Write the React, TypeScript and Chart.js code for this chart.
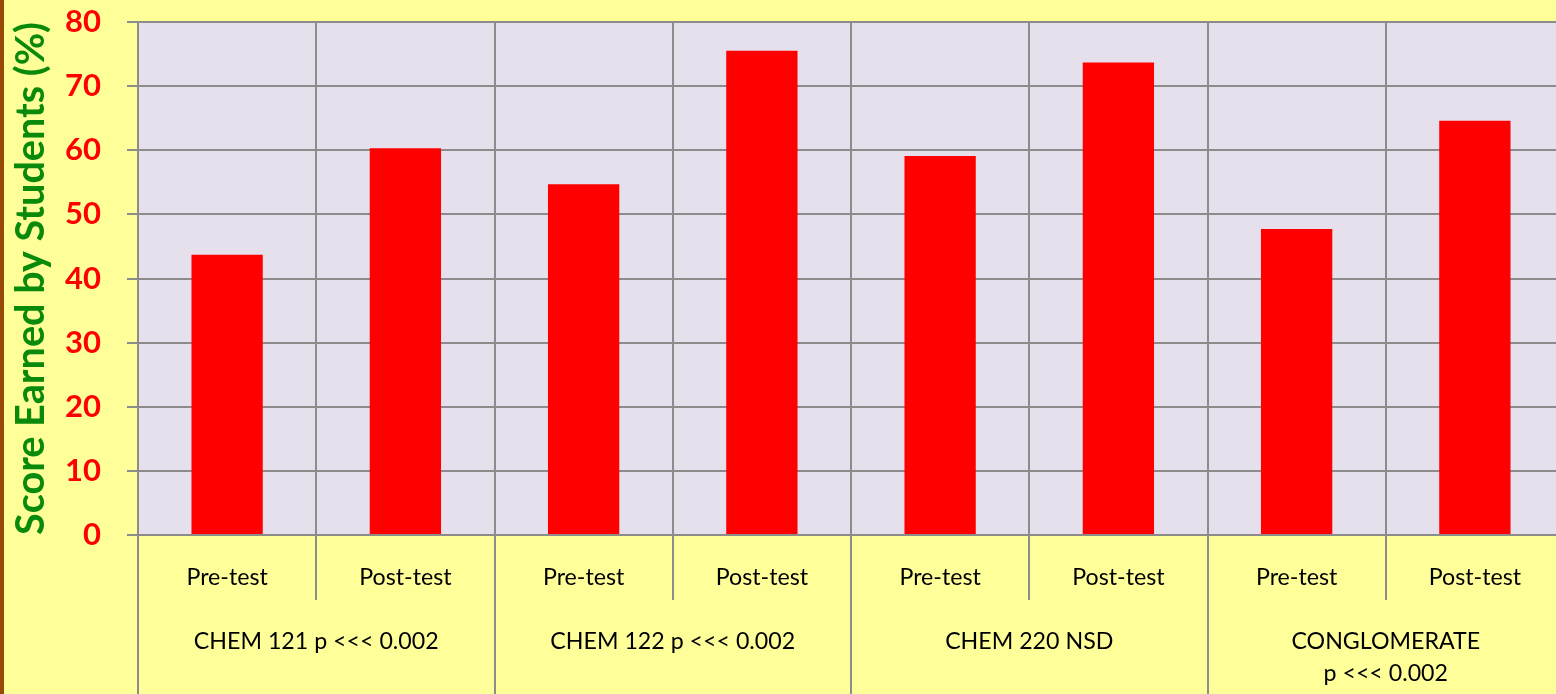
import React, { useEffect, useRef } from "react";
import { Chart, registerables } from "chart.js";

Chart.register(...registerables);

// ---- data ----
const subCategories = [
  "Pre-test", "Post-test",
  "Pre-test", "Post-test",
  "Pre-test", "Post-test",
  "Pre-test", "Post-test",
];
const groupLabels: string[][] = [
  ["CHEM 121 p <<< 0.002"],
  ["CHEM 122 p <<< 0.002"],
  ["CHEM 220 NSD"],
  ["CONGLOMERATE", "p <<< 0.002"],
];
const scores = [43.7, 60.3, 54.7, 75.5, 59.1, 73.7, 47.7, 64.6];
const yMin = 0;
const yMax = 80;
const yStep = 10;
const yTitle = "Score Earned by Students (%)";

// ---- style ----
const W = 1566;
const H = 720;
const FONT = "Lato";
const YELLOW = "#FFFF99";
const PLOT_BG = "#E6E0EC";
const GRID = "#8C8C8C";
const BAR = "#FF0000";
const GREEN = "#0A8A0A";
const BROWN = "#984807";

function fitSize(text: string, weight: string, target: number): number {
  const c = document.createElement("canvas").getContext("2d")!;
  c.font = `${weight} 100px ${FONT}`;
  return (100 * target) / c.measureText(text).width;
}

export default function App() {
  const ref = useRef<HTMLCanvasElement | null>(null);

  useEffect(() => {
    if (!ref.current) return;
    const titleSize = fitSize(yTitle, "bold", 513);
    const yTickSize = fitSize("80", "bold", 36);
    const xSize = fitSize("CHEM 121 p <<< 0.002", "normal", 245);
    const plotTop = 22;
    const plotBottom = 535;
    const tickLen = 65;
    const subCenter = 578;
    const groupCenter = 642;
    const groupLineGap = 32;

    const bgPlugin = {
      id: "plotBg",
      beforeDraw(chart: any) {
        const { ctx, chartArea } = chart;
        ctx.save();
        ctx.fillStyle = PLOT_BG;
        ctx.fillRect(chartArea.left, chartArea.top, chartArea.right - chartArea.left, chartArea.bottom - chartArea.top);
        ctx.restore();
      },
    };

    const groupPlugin = {
      id: "groups",
      afterDraw(chart: any) {
        const xs = chart.scales.x;
        const ctx = chart.ctx;
        ctx.save();
        ctx.strokeStyle = GRID;
        ctx.lineWidth = 2;
        const per = subCategories.length / groupLabels.length;
        for (let g = 0; g <= groupLabels.length; g++) {
          const x = Math.round(xs.getPixelForValue(g * per - 0.5));
          ctx.beginPath();
          ctx.moveTo(x, xs.top);
          ctx.lineTo(x, chart.height);
          ctx.stroke();
        }
        ctx.fillStyle = "#000";
        ctx.font = `normal ${xSize}px ${FONT}`;
        ctx.textAlign = "center";
        ctx.textBaseline = "middle";
        groupLabels.forEach((lines, g) => {
          const cx = xs.getPixelForValue(g * per + (per - 1) / 2);
          lines.forEach((t, i) => {
            ctx.fillText(t, cx, groupCenter + i * groupLineGap);
          });
        });
        ctx.restore();
      },
    };

    const chart = new Chart(ref.current, {
      type: "bar",
      data: {
        labels: subCategories,
        datasets: [
          {
            data: scores,
            backgroundColor: BAR,
            borderWidth: 0,
            categoryPercentage: 1,
            barPercentage: 0.4,
          },
        ],
      },
      options: {
        responsive: false,
        animation: false,
        devicePixelRatio: 1,
        layout: { padding: { left: 0, right: 2, top: plotTop, bottom: 0 } },
        plugins: { legend: { display: false }, tooltip: { enabled: false }, title: { display: false } },
        scales: {
          x: {
            type: "category",
            offset: true,
            grid: {
              offset: true,
              color: GRID,
              lineWidth: 2,
              drawTicks: true,
              tickLength: tickLen,
              drawOnChartArea: true,
            },
            border: { color: GRID, width: 2 },
            ticks: {
              color: "#000",
              font: { family: FONT, size: xSize, lineHeight: 1 },
              padding: subCenter - plotBottom - tickLen - xSize / 2,
              maxRotation: 0,
              autoSkip: false,
            },
            afterFit: (s: any) => {
              s.height = H - plotBottom;
              s.paddingLeft = 0;
              s.paddingRight = 0;
            },
          },
          y: {
            min: yMin,
            max: yMax,
            ticks: {
              stepSize: yStep,
              color: "#FF0000",
              font: { family: FONT, size: yTickSize, weight: "bold", lineHeight: 1 },
              padding: 26,
            },
            grid: { color: GRID, lineWidth: 2, tickLength: 11 },
            border: { color: GRID, width: 2 },
            title: {
              display: true,
              text: yTitle,
              color: GREEN,
              font: { family: FONT, size: titleSize, weight: "bold", lineHeight: 1 },
              padding: { top: 31 - titleSize / 2, bottom: 0 },
            },
            afterFit: (s: any) => {
              s.width = 138;
              s.paddingTop = 0;
              s.paddingBottom = 0;
            },
          },
        },
      },
      plugins: [bgPlugin, groupPlugin],
    } as any);
    return () => chart.destroy();
  }, []);

  return (
    <div
      style={{
        position: "fixed",
        left: 0,
        top: 0,
        width: 1556,
        height: 694,
        overflow: "hidden",
        background: YELLOW,
      }}
    >
      <canvas
        ref={ref}
        width={W}
        height={H}
        style={{ position: "absolute", left: 0, top: 0, width: W, height: H }}
      />
      <div
        style={{ position: "absolute", left: 0, top: 0, width: 4, height: 694, background: BROWN }}
      />
    </div>
  );
}
